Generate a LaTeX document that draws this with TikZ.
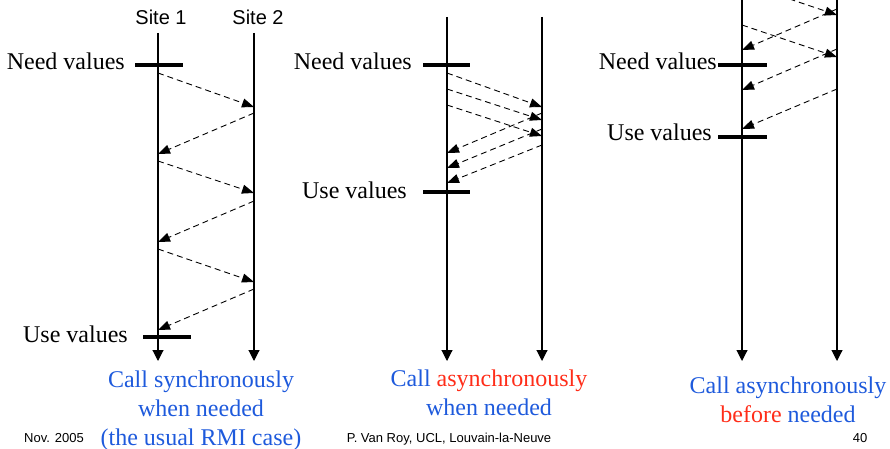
\documentclass[tikz,border=0pt]{standalone}
\usepackage{fontspec}
\setmainfont{Liberation Serif}
\setsansfont{Liberation Sans}
\usetikzlibrary{arrows.meta,positioning}
\definecolor{callblue}{RGB}{30,90,220}
\definecolor{callred}{RGB}{255,45,25}

\begin{document}
\begin{tikzpicture}[x=1pt,y=-1pt]
	\tikzstyle{timeline}=[line width=1.1pt,-{Triangle[length=11pt,width=11pt]}]
	\tikzstyle{message}=[line width=0.9pt,dash pattern=on 6pt off 4pt,-{Triangle[length=12pt,width=9pt]}]
	\tikzstyle{bar}=[line width=4pt]
	\tikzstyle{event}=[anchor=base east,inner sep=0pt,font=\fontsize{24}{29}\selectfont]
	\tikzstyle{site}=[anchor=base,inner sep=0pt,font=\sffamily\fontsize{20}{24}\selectfont]
	\tikzstyle{caption}=[anchor=north,inner sep=0pt,align=center,text=callblue,font=\fontsize{24}{29}\selectfont]
	\tikzstyle{footer}=[anchor=base,inner sep=0pt,font=\sffamily\fontsize{13}{16}\selectfont]

	\useasboundingbox (0,0) rectangle (890,449);
	\clip (0,0) rectangle (890,449);

	% Draw the two sites of each case
	\foreach \n/\xa/\xb/\ytop in {1/158/254/33,2/447/542/17,3/742/837/-5} {
		\coordinate (S1-\n) at (\xa,\ytop);
		\coordinate (S2-\n) at (\xb,\ytop);
		\coordinate (E1-\n) at (\xa,361);
		\coordinate (E2-\n) at (\xb,361);
		\draw[timeline] (S1-\n) -- (E1-\n);
		\draw[timeline] (S2-\n) -- (E2-\n);
	}
	\node[site] (site1) at (161,25) {Site 1};
	\node[site] (site2) at (258,25) {Site 2};

	% Draw the messages between the sites
	\foreach \m/\xs/\ys/\xe/\ye in {
		a/158/73/254/107, b/254/113/158/154, c/158/161/254/193,
		d/254/201/158/242, e/158/249/254/282, f/254/289/158/330,
		g/447/73/542/107, h/447/89/542/120, i/447/105/542/136,
		j/542/113/447/153, k/542/129/447/168, l/542/145/447/183,
		m/742/-17/837/15, n/742/25/837/57, o/837/9/742/50,
		p/837/49/742/90, q/837/89/742/129} {
		\coordinate (M-\m-from) at (\xs,\ys);
		\coordinate (M-\m-to) at (\xe,\ye);
		\draw[message] (M-\m-from) -- (M-\m-to);
	}

	% Draw the need / use marks
	\foreach \name/\xl/\xr/\y/\xt/\yt/\txt in {
		need1/135/183/65/125/70/Need values, use1/143/191/337/128/342/Use values,
		need2/423/470/65/412/70/Need values, use2/423/470/192/407/198/Use values,
		need3/718/767/65/717/70/Need values, use3/718/767/137/712/141/Use values} {
		\coordinate (\name-l) at (\xl,\y);
		\coordinate (\name-r) at (\xr,\y);
		\draw[bar] (\name-l) -- (\name-r);
		\node[event] (\name) at (\xt,\yt) {\txt};
	}

	% Captions
	\node[caption] (cap1) at (201,370.5) {Call synchronously\\when needed\\(the usual RMI case)};
	\node[caption] (cap2) at (489,369.5) {Call {\color{callred}asynchronously}\\when needed};
	\node[caption] (cap3) at (788,376.5) {Call asynchronously\\{\color{callred}before} needed};

	\node[footer] (date) at (54,442) {Nov. 2005};
	\node[footer] (author) at (449,442) {P. Van Roy, UCL, Louvain-la-Neuve};
	\node[footer] (page) at (860,442) {40};
\end{tikzpicture}
\end{document}
